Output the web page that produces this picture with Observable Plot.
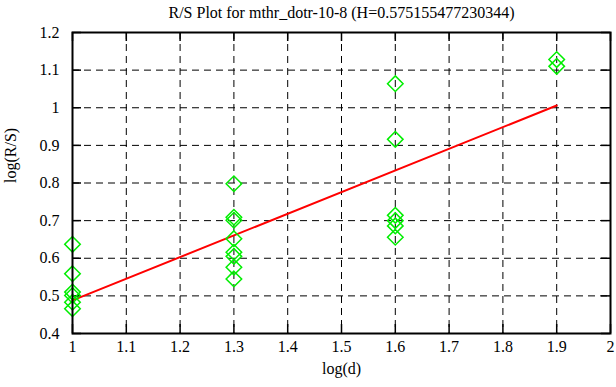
<!DOCTYPE html>
<html>
<head>
<meta charset="utf-8">
<script src="https://cdn.jsdelivr.net/npm/d3@7"></script>
<script src="https://cdn.jsdelivr.net/npm/@observablehq/plot@0.6"></script>
<style>
  html, body { margin: 0; padding: 0; background: #fff; }
  svg { display: block; }
  svg text { font-family: 'Liberation Serif', 'DejaVu Serif', serif !important; font-variant: normal !important; }
</style>
</head>
<body>
<div id="chart"></div>
<script>
const title = "R/S Plot for mthr_dotr-10-8 (H=0.575155477230344)";
const xLabel = "log(d)";
const yLabel = "log(R/S)";

// observed points: log(d) and log(R/S)
const pointX = [1, 1, 1, 1, 1, 1,
                1.3, 1.3, 1.3, 1.3, 1.3, 1.3, 1.3, 1.3,
                1.6, 1.6, 1.6, 1.6, 1.6, 1.6,
                1.9, 1.9];
const pointY = [0.637, 0.559, 0.510, 0.501, 0.483, 0.466,
                0.798, 0.709, 0.701, 0.652, 0.616, 0.605, 0.576, 0.545,
                1.064, 0.916, 0.714, 0.700, 0.686, 0.656,
                1.128, 1.110];

// fitted line endpoints
const fitX = [1, 1.9];
const fitY = [0.488, 1.006];

const xTicks = [1, 1.1, 1.2, 1.3, 1.4, 1.5, 1.6, 1.7, 1.8, 1.9, 2];
const xTickLabels = ["1", "1.1", "1.2", "1.3", "1.4", "1.5", "1.6", "1.7", "1.8", "1.9", "2"];
const yTicks = [0.4, 0.5, 0.6, 0.7, 0.8, 0.9, 1, 1.1, 1.2];
const yTickLabels = ["0.4", "0.5", "0.6", "0.7", "0.8", "0.9", "1", "1.1", "1.2"];

const points = pointX.map((x, i) => ({x, y: pointY[i]}));
const fit = fitX.map((x, i) => ({x, y: fitY[i]}));

const W = 616, H = 387;
const mL = 72, mR = 6, mT = 32, mB = 54;
const innerH = H - mT - mB;
const innerW = W - mL - mR;
const tickLen = 9;
const serif = "'Liberation Serif', 'DejaVu Serif', serif";

const chart = Plot.plot({
  width: W,
  height: H,
  marginLeft: mL,
  marginRight: mR,
  marginTop: mT,
  marginBottom: mB,
  style: {fontFamily: serif, fontSize: "16px", background: "#fff", color: "#000"},
  x: {domain: [1, 2]},
  y: {domain: [0.4, 1.2]},
  marks: [
    Plot.gridX(xTicks, {stroke: "#000", strokeOpacity: 1, strokeDasharray: "7,5", strokeWidth: 1}),
    Plot.gridY(yTicks, {stroke: "#000", strokeOpacity: 1, strokeDasharray: "7,5", strokeWidth: 1}),
    // inward ticks on all four sides
    Plot.ruleX(xTicks, {x: d => d, insetTop: innerH - tickLen, stroke: "#000", strokeWidth: 1.5}),
    Plot.ruleX(xTicks, {x: d => d, insetBottom: innerH - tickLen, stroke: "#000", strokeWidth: 1.5}),
    Plot.ruleY(yTicks, {y: d => d, insetRight: innerW - tickLen, stroke: "#000", strokeWidth: 1.5}),
    Plot.ruleY(yTicks, {y: d => d, insetLeft: innerW - tickLen, stroke: "#000", strokeWidth: 1.5}),
    Plot.axisX(xTicks, {
      tickSize: 0, tickPadding: 7, fontSize: 16, fontFamily: serif, fontVariant: "normal",
      tickFormat: (d, i) => xTickLabels[i],
      label: null
    }),
    Plot.axisY(yTicks, {
      tickSize: 0, tickPadding: 13, fontSize: 16, fontFamily: serif, fontVariant: "normal",
      tickFormat: (d, i) => yTickLabels[i],
      label: null
    }),
    Plot.line(fit, {x: "x", y: "y", stroke: "#ff0000", strokeWidth: 2}),
    Plot.dot(points, {x: "x", y: "y", symbol: "diamond2", r: 7, stroke: "#00ee00", strokeWidth: 1.5, fill: "none"}),
    Plot.frame({stroke: "#000", strokeWidth: 2}),
    Plot.text([title], {frameAnchor: "top", lineAnchor: "middle", dy: -20, fontSize: 16, fontFamily: serif, fill: "#000"}),
    Plot.text([xLabel], {frameAnchor: "bottom", lineAnchor: "middle", dy: 35, fontSize: 16, fontFamily: serif, fill: "#000"}),
    Plot.text([yLabel], {frameAnchor: "left", lineAnchor: "middle", dx: -62, rotate: -90, fontSize: 16, fontFamily: serif, fill: "#000"})
  ]
});
document.getElementById("chart").appendChild(chart);
</script>
</body>
</html>
